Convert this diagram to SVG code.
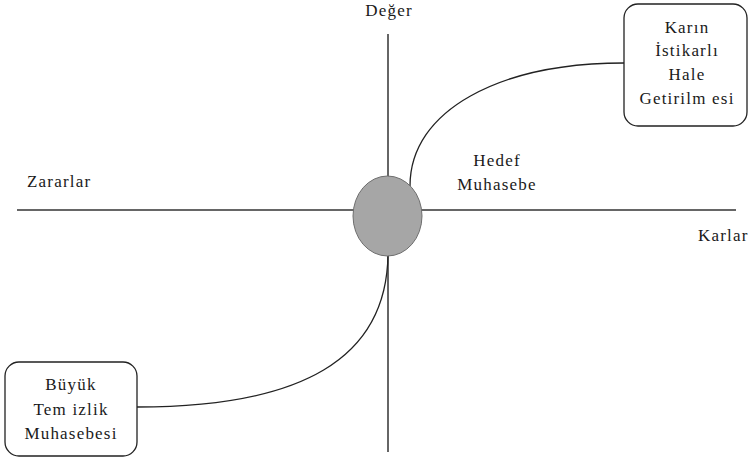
<svg xmlns="http://www.w3.org/2000/svg" width="751" height="459" viewBox="0 0 751 459">
<style>
text{font-family:"Liberation Serif","Times New Roman",serif;font-size:17px;fill:#1a1a1a;letter-spacing:1.2px}
.c{text-anchor:middle}
.ax{stroke:#333;stroke-width:1.5;fill:none}
.cv{stroke:#222;stroke-width:1.3;fill:none}
.box{fill:#fff;stroke:#222;stroke-width:1.3}
</style>
<rect width="751" height="459" fill="#fff"/>
<g id="connectors">
<line class="ax" x1="17" y1="210" x2="736" y2="210"/>
<line class="ax" x1="388" y1="34" x2="388" y2="452"/>
<path class="cv" d="M410,186 C410,110 500,63 624,63"/>
<path class="cv" d="M388,252 C388,360 300,407 137,407"/>
</g>
<g id="center">
<ellipse cx="387.5" cy="216" rx="34.5" ry="40" fill="#a6a6a6" stroke="#6e6e6e" stroke-width="1"/>
</g>
<g id="labels">
<text class="c" x="389" y="16">Değer</text>
<text x="27" y="187">Zararlar</text>
<text x="698" y="241">Karlar</text>
<text class="c" x="497" y="166">Hedef</text>
<text class="c" x="497" y="190">Muhasebe</text>
</g>
<g id="node-karin">
<rect class="box" x="624" y="4" width="123" height="122" rx="14"/>
<text class="c" x="687" y="33">Karın</text>
<text class="c" x="687" y="56">İstikarlı</text>
<text class="c" x="687" y="80">Hale</text>
<text class="c" x="687" y="104">Getirilm esi</text>
</g>
<g id="node-buyuk">
<rect class="box" x="5" y="362" width="132" height="94" rx="14"/>
<text class="c" x="71" y="390">Büyük</text>
<text class="c" x="71" y="415">Tem izlik</text>
<text class="c" x="71" y="439">Muhasebesi</text>
</g>
</svg>
